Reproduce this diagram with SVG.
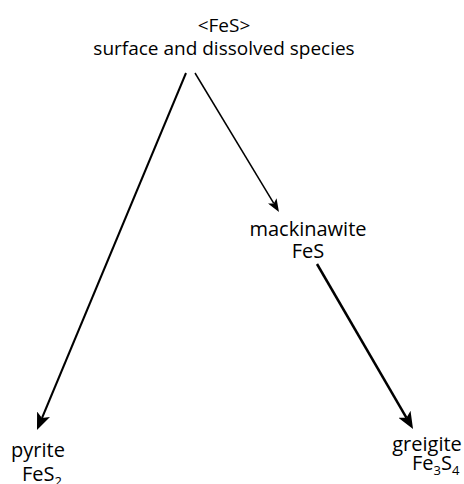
<svg xmlns="http://www.w3.org/2000/svg" width="464" height="484" viewBox="0 0 464 484">
<style>
text{font-family:"Open Sans","Noto Sans","Liberation Sans",sans-serif;font-size:20px;fill:#000;text-anchor:middle}
.t{font-size:19px}
.sub{font-size:13px}
.c{fill:none;stroke:#000}
</style>
<defs>
<marker id="hA" markerUnits="userSpaceOnUse" viewBox="0 -7 17 14" refX="4" refY="0" markerWidth="17" markerHeight="14" orient="auto"><path d="M0,-7 L17,0 L0,7 L4,0 Z" fill="#000"/></marker>
<marker id="hB" markerUnits="userSpaceOnUse" viewBox="0 -5 13 10" refX="3" refY="0" markerWidth="13" markerHeight="10" orient="auto"><path d="M0,-5 L13,0 L0,5 L3,0 Z" fill="#000"/></marker>
</defs>
<rect width="464" height="484" fill="#fff"/>
<g id="connectors">
<line class="c" x1="186" y1="73" x2="42" y2="418" stroke-width="2" marker-end="url(#hA)"/>
<line class="c" x1="195" y1="73" x2="273.8" y2="203.4" stroke-width="1.5" marker-end="url(#hB)"/>
<line class="c" x1="317" y1="264" x2="406.5" y2="417.8" stroke-width="2.5" marker-end="url(#hA)"/>
</g>
<g id="fes">
<text class="t" x="224" y="32">&lt;FeS&gt;</text>
<text class="t" x="224" y="55">surface and dissolved species</text>
</g>
<g id="mackinawite">
<text x="308" y="236">mackinawite</text>
<text x="308" y="258">FeS</text>
</g>
<g id="pyrite">
<text x="38" y="457">pyrite</text>
<text x="22" y="481" style="text-anchor:start">FeS<tspan class="sub" dy="5">2</tspan></text>
</g>
<g id="greigite">
<text x="427" y="451">greigite</text>
<text x="412" y="470" style="text-anchor:start">Fe<tspan class="sub" dy="5">3</tspan><tspan dy="-5">S</tspan><tspan class="sub" dy="5">4</tspan></text>
</g>
</svg>
